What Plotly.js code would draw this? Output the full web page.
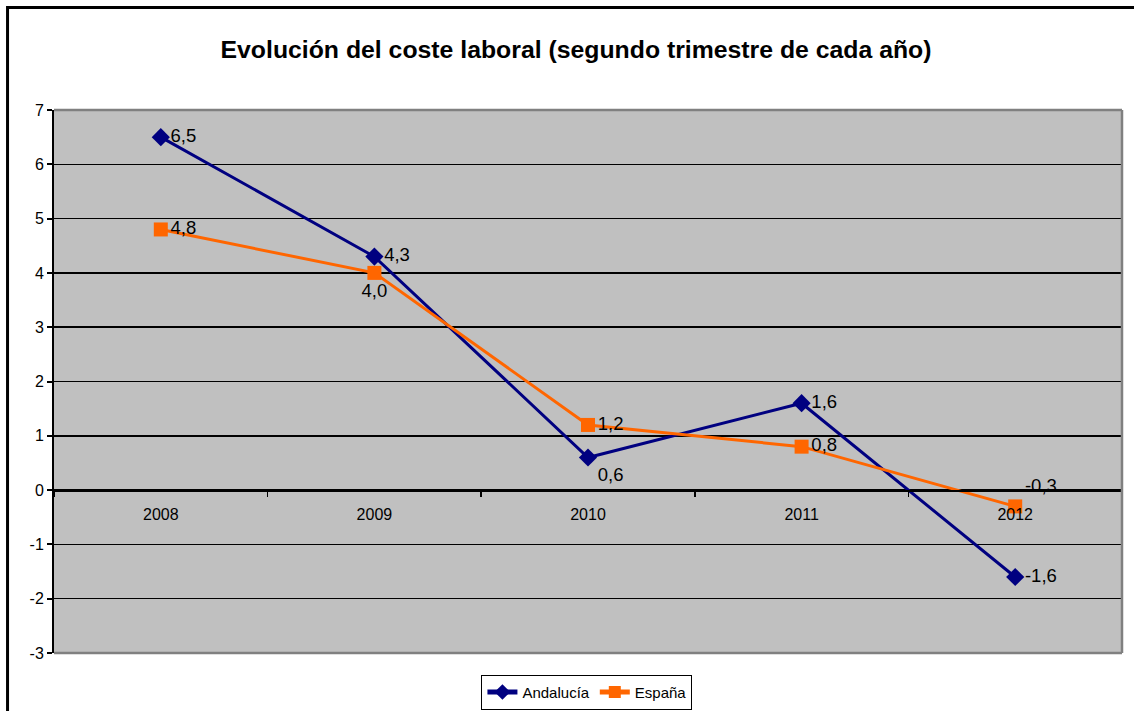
<!DOCTYPE html>
<html>
<head>
<meta charset="utf-8">
<script src="https://cdn.plot.ly/plotly-3.0.1.min.js"></script>
<style>html,body{margin:0;padding:0;background:#fff;}#chart{width:1134px;height:711px;}</style>
</head>
<body>
<div id="chart"></div>
<script>
const years = ['2008', '2009', '2010', '2011', '2012'];
const andalucia = [6.5, 4.3, 0.6, 1.6, -1.6];
const espana = [4.8, 4.0, 1.2, 0.8, -0.3];
const yTicks = [-3, -2, -1, 0, 1, 2, 3, 4, 5, 6, 7];

const fmt = v => v.toFixed(1).replace('.', ',');
const labelFont = {family: 'Liberation Sans, Arial, sans-serif', size: 18.5, color: '#000'};

const traces = [
  {
    x: years, y: andalucia, name: 'Andalucía', type: 'scatter', mode: 'lines+markers+text',
    line: {color: '#000080', width: 3},
    marker: {symbol: 'diamond', size: 14, color: '#000080'},
    text: andalucia.map(fmt),
    textposition: ['middle right', 'middle right', 'bottom right', 'middle right', 'middle right'],
    textfont: labelFont, cliponaxis: false
  },
  {
    x: years, y: espana, name: 'España', type: 'scatter', mode: 'lines+markers+text',
    line: {color: '#FF6600', width: 3},
    marker: {symbol: 'square', size: 14, color: '#FF6600'},
    text: espana.map(fmt),
    textposition: ['middle right', 'bottom center', 'middle right', 'middle right', 'top right'],
    textfont: labelFont, cliponaxis: false
  }
];

const layout = {
  width: 1134, height: 711,
  margin: {l: 54, r: 12, t: 110, b: 58, autoexpand: false},
  paper_bgcolor: '#ffffff',
  plot_bgcolor: '#C0C0C0',
  font: {family: 'Liberation Sans, Arial, sans-serif', color: '#000'},
  title: {
    text: '<b>Evolución del coste laboral (segundo trimestre de cada año)</b>',
    font: {size: 24.8, color: '#000', family: 'Liberation Sans, Arial, sans-serif'},
    xref: 'paper', x: 0.4888, xanchor: 'center',
    yref: 'container', y: 0.93, yanchor: 'middle'
  },
  xaxis: {
    type: 'category', range: [-0.5, 4.5],
    anchor: 'free', position: 0.3,
    showline: true, linecolor: '#000', linewidth: 1.5,
    ticks: 'outside', tickson: 'boundaries', ticklen: 5, tickwidth: 1.5, tickcolor: '#000',
    ticklabelstandoff: 9,
    showgrid: false, zeroline: false,
    tickfont: {size: 16, color: '#000'},
    fixedrange: true
  },
  yaxis: {
    range: [-3, 7], tickvals: yTicks, ticktext: yTicks.map(String),
    showline: true, linecolor: '#000', linewidth: 2,
    ticks: 'outside', ticklen: 5, tickwidth: 2, tickcolor: '#000',
    showgrid: true, gridcolor: '#000', gridwidth: 1.5,
    zeroline: false,
    tickfont: {size: 16, color: '#000'},
    fixedrange: true
  },
  showlegend: true,
  legend: {
    orientation: 'h', xref: 'paper', yref: 'container',
    x: 0.499, xanchor: 'center', y: 0.051, yanchor: 'top',
    bordercolor: '#000', borderwidth: 1, bgcolor: '#fff',
    font: {size: 15, color: '#000'},
    itemsizing: 'constant'
  },
  shapes: [
    {type: 'line', xref: 'paper', yref: 'paper', x0: 0, x1: 1, y0: 1, y1: 1, line: {color: '#808080', width: 2.5}, layer: 'above'},
    {type: 'line', xref: 'paper', yref: 'paper', x0: 0, x1: 1, y0: 0, y1: 0, line: {color: '#808080', width: 2.5}, layer: 'above'},
    {type: 'line', xref: 'paper', yref: 'paper', x0: 1, x1: 1, y0: 0, y1: 1, line: {color: '#808080', width: 2.5}, layer: 'above'},
    {type: 'rect', xref: 'paper', yref: 'paper', x0: -0.0435, x1: 1.03, y0: 1.1888, y1: -0.25, line: {color: '#000', width: 3}, fillcolor: 'rgba(0,0,0,0)', layer: 'above'}
  ]
};

Plotly.newPlot('chart', traces, layout, {displayModeBar: false, staticPlot: true});
</script>
</body>
</html>
